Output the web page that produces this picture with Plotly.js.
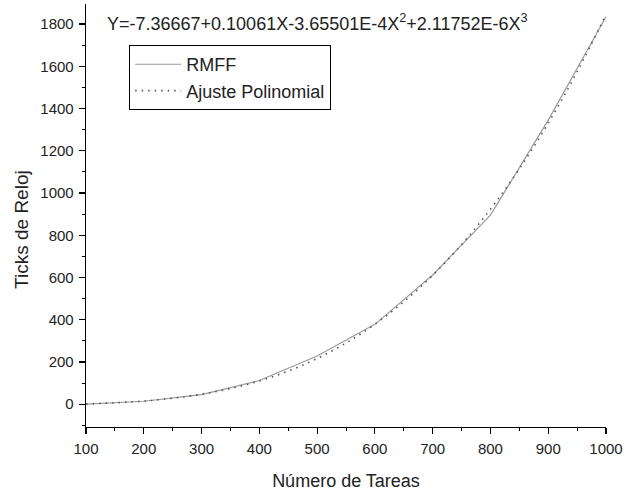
<!DOCTYPE html>
<html>
<head>
<meta charset="utf-8">
<script src="https://cdn.plot.ly/plotly-3.0.1.min.js"></script>
<style>
  html, body { margin: 0; padding: 0; background: #fff; }
  #chart { width: 625px; height: 494px; }
</style>
</head>
<body>
<div id="chart"></div>
<script>
// Measured clock ticks for the RMFF scheduler
const tareas = [100, 200, 300, 400, 500, 600, 700, 800, 900, 1000];
const ticksRMFF = [0, 14, 45, 112, 228, 378, 612, 895, 1345, 1835];

// Cubic fit: Y = -7.36667 + 0.10061X - 3.65501E-4X^2 + 2.11752E-6X^3
const tareasAjuste = [100, 150, 200, 250, 300, 350, 400, 450, 500, 550,
                      600, 650, 700, 750, 800, 850, 900, 950, 1000];
const ticksAjuste = [1.16, 6.65, 15.08, 28.03, 47.09, 73.86, 109.92, 156.85, 216.25, 289.71,
                     378.80, 485.13, 610.27, 755.85, 923.37, 1114.50, 1330.80, 1573.86, 1845.26];

const xTicks = [100, 200, 300, 400, 500, 600, 700, 800, 900, 1000];
const yTicks = [0, 200, 400, 600, 800, 1000, 1200, 1400, 1600, 1800];

const font = 'Liberation Sans, Arial, sans-serif';

const traces = [
  {
    x: tareas, y: ticksRMFF, name: 'RMFF', type: 'scatter', mode: 'lines',
    line: { color: '#9a9a9a', width: 1.2 }
  },
  {
    x: tareasAjuste, y: ticksAjuste, name: 'Ajuste Polinomial', type: 'scatter', mode: 'lines',
    line: { color: '#555555', width: 1.6, dash: '1.5px,5px', shape: 'spline' }
  }
];

const axisCommon = {
  showline: true, linecolor: '#000', linewidth: 1.3,
  ticks: 'outside', ticklen: 6, tickwidth: 1.2, tickcolor: '#000',
  showgrid: false, zeroline: false,
  tickfont: { family: font, size: 15, color: '#222' },
  minor: { ticks: 'outside', ticklen: 3, tickwidth: 1, tickcolor: '#000', showgrid: false }
};

const layout = {
  width: 625, height: 494,
  margin: { l: 86, r: 19, t: 4, b: 67 },
  paper_bgcolor: '#fff', plot_bgcolor: '#fff',
  font: { family: font, color: '#222' },
  showlegend: true,
  legend: {
    x: 0.083, y: 0.903, xanchor: 'left', yanchor: 'top',
    bordercolor: '#000', borderwidth: 1, bgcolor: '#fff',
    font: { family: font, size: 18, color: '#222' },
    itemwidth: 46, entrywidth: 218, entrywidthmode: 'pixels',
    tracegroupgap: 0
  },
  xaxis: Object.assign({}, axisCommon, {
    range: [100, 1000], tickvals: xTicks, ticktext: xTicks.map(String),
    ticklabelstandoff: 2,
    minor: Object.assign({}, axisCommon.minor, { dtick: 50, tick0: 100 }),
    title: { text: 'Número de Tareas', font: { family: font, size: 18, color: '#222' }, standoff: 18 }
  }),
  yaxis: Object.assign({}, axisCommon, {
    range: [-108, 1895], tickvals: yTicks, ticktext: yTicks.map(String),
    ticklabelstandoff: 2,
    minor: Object.assign({}, axisCommon.minor, { dtick: 100, tick0: 0 })
  }),
  annotations: [
    {
      xref: 'paper', yref: 'paper', x: 0.0365, y: 0.957, xanchor: 'left', yanchor: 'middle',
      showarrow: false,
      text: 'Y=-7.36667+0.10061X-3.65501E-4X<sup>2</sup>+2.11752E-6X<sup>3</sup>',
      font: { family: font, size: 18, color: '#222' }
    },
    {
      // y-axis title, placed slightly below the plot's vertical centre
      xref: 'paper', yref: 'paper', x: -0.123, y: 0.466, xanchor: 'center', yanchor: 'middle',
      showarrow: false, textangle: -90,
      text: 'Ticks de Reloj',
      font: { family: font, size: 19, color: '#222' }
    }
  ]
};

Plotly.newPlot('chart', traces, layout, { displayModeBar: false, staticPlot: true });
</script>
</body>
</html>
